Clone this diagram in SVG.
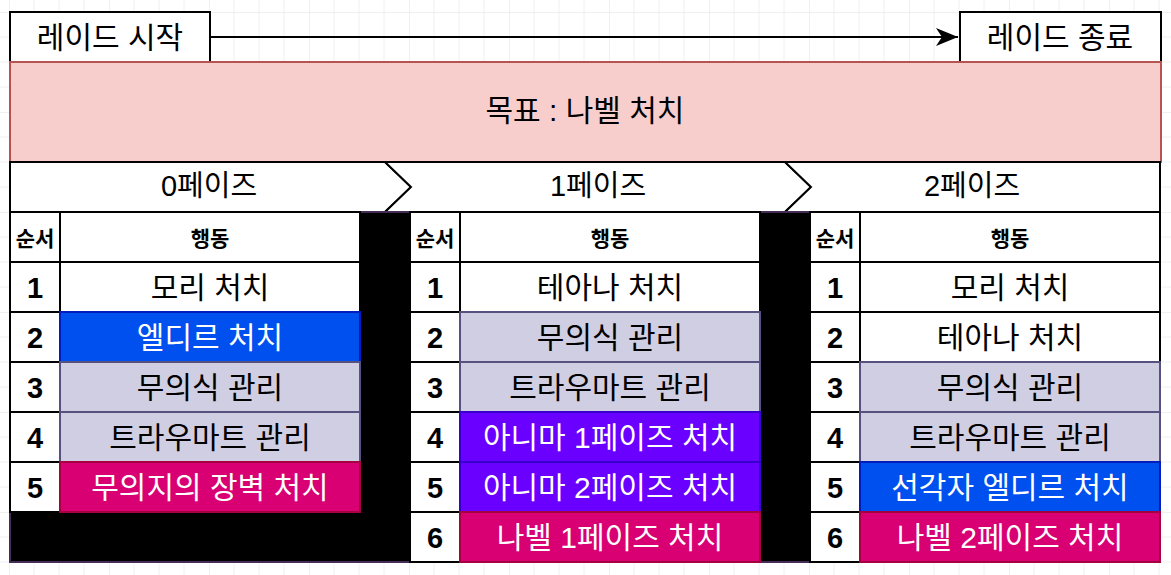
<svg xmlns="http://www.w3.org/2000/svg" width="1171" height="575" viewBox="0 0 1171 575">
<style>
text{font-family:"Liberation Sans","Noto Sans CJK KR",sans-serif;text-anchor:middle;dominant-baseline:central}
.t{font-size:30px;fill:#000}
.ph{font-size:29px}
.w{fill:#fff}
.goal{font-size:30px}
.hd{font-size:21px;font-weight:bold}
.num{font-size:29px;font-weight:bold}
.box{fill:#fff;stroke:#000;stroke-width:2}
.blue{fill:#0050ef;stroke:#001dbc;stroke-width:2}
.lav{fill:#d0cee2;stroke:#56517e;stroke-width:2}
.mag{fill:#d80073;stroke:#a50040;stroke-width:2}
.pur{fill:#6a00ff;stroke:#3700cc;stroke-width:2}
.blk{fill:#000;stroke:#432d57;stroke-width:2}
</style>
<defs>
<pattern id="grid" patternUnits="userSpaceOnUse" x="9" y="12" width="100" height="100">
<path d="M25 0V100M50 0V100M75 0V100M0 25H100M0 50H100M0 75H100" stroke="#f0f0f0" stroke-width="1" fill="none"/>
<path d="M0 0V100M0 0H100" stroke="#e2e2e2" stroke-width="1" fill="none"/>
</pattern>
<marker id="arr" markerUnits="userSpaceOnUse" markerWidth="24" markerHeight="20" refX="22" refY="9" orient="auto">
<path d="M0 0 L22 9 L0 18 L6 9 Z" fill="#000"/>
</marker>
</defs>
<rect width="1171" height="575" fill="#fff"/>
<rect width="1171" height="575" fill="url(#grid)"/>

<g id="connectors">
<path d="M210 37 H958" stroke="#000" stroke-width="2" fill="none" marker-end="url(#arr)"/>
</g>

<g id="raid-start"><rect class="box" x="10" y="12" width="200" height="50"/><text class="t" x="110" y="37">레이드 시작</text></g>
<g id="raid-end"><rect class="box" x="960" y="12" width="201" height="50"/><text class="t" x="1060" y="37">레이드 종료</text></g>
<g id="goal"><rect x="10" y="62" width="1151" height="100" fill="#f8cecc" stroke="#b85450" stroke-width="2"/><text class="t goal" x="585" y="110">목표 : 나벨 처치</text></g>

<g id="phase0"><polygon class="box" points="10,162 385,162 411,187 385,212 10,212"/><text class="t ph" x="209" y="186">0페이즈</text></g>
<g id="phase1"><polygon class="box" points="385,162 785,162 811,187 785,212 385,212 411,187"/><text class="t ph" x="598" y="186">1페이즈</text></g>
<g id="phase2"><polygon class="box" points="785,162 1160,162 1160,212 785,212 811,187"/><text class="t ph" x="972" y="186">2페이즈</text></g>

<g id="table0">
<rect class="blk" x="10" y="212" width="400" height="350"/>
<rect class="box" x="10" y="212" width="50" height="50"/><text class="hd" x="35" y="238">순서</text>
<rect class="box" x="60" y="212" width="300" height="50"/><text class="hd" x="210" y="238">행동</text>
<rect class="box" x="10" y="262" width="50" height="50"/><text class="num" x="35" y="288">1</text>
<rect class="box" x="60" y="262" width="300" height="50"/><text class="t" x="210" y="287">모리 처치</text>
<rect class="box" x="10" y="312" width="50" height="50"/><text class="num" x="35" y="338">2</text>
<rect class="blue" x="60" y="312" width="300" height="50"/><text class="t w" x="210" y="337">엘디르 처치</text>
<rect class="box" x="10" y="362" width="50" height="50"/><text class="num" x="35" y="388">3</text>
<rect class="lav" x="60" y="362" width="300" height="50"/><text class="t" x="210" y="387">무의식 관리</text>
<rect class="box" x="10" y="412" width="50" height="50"/><text class="num" x="35" y="438">4</text>
<rect class="lav" x="60" y="412" width="300" height="50"/><text class="t" x="210" y="437">트라우마트 관리</text>
<rect class="box" x="10" y="462" width="50" height="50"/><text class="num" x="35" y="488">5</text>
<rect class="mag" x="60" y="462" width="300" height="50"/><text class="t w" x="210" y="487">무의지의 장벽 처치</text>
</g>

<g id="table1">
<rect class="blk" x="760" y="212" width="50" height="350"/>
<rect class="box" x="410" y="212" width="50" height="50"/><text class="hd" x="435" y="238">순서</text>
<rect class="box" x="460" y="212" width="300" height="50"/><text class="hd" x="610" y="238">행동</text>
<rect class="box" x="410" y="262" width="50" height="50"/><text class="num" x="435" y="288">1</text>
<rect class="box" x="460" y="262" width="300" height="50"/><text class="t" x="610" y="287">테아나 처치</text>
<rect class="box" x="410" y="312" width="50" height="50"/><text class="num" x="435" y="338">2</text>
<rect class="lav" x="460" y="312" width="300" height="50"/><text class="t" x="610" y="337">무의식 관리</text>
<rect class="box" x="410" y="362" width="50" height="50"/><text class="num" x="435" y="388">3</text>
<rect class="lav" x="460" y="362" width="300" height="50"/><text class="t" x="610" y="387">트라우마트 관리</text>
<rect class="box" x="410" y="412" width="50" height="50"/><text class="num" x="435" y="438">4</text>
<rect class="pur" x="460" y="412" width="300" height="50"/><text class="t w" x="610" y="437">아니마 1페이즈 처치</text>
<rect class="box" x="410" y="462" width="50" height="50"/><text class="num" x="435" y="488">5</text>
<rect class="pur" x="460" y="462" width="300" height="50"/><text class="t w" x="610" y="487">아니마 2페이즈 처치</text>
<rect class="box" x="410" y="512" width="50" height="50"/><text class="num" x="435" y="538">6</text>
<rect class="mag" x="460" y="512" width="300" height="50"/><text class="t w" x="610" y="537">나벨 1페이즈 처치</text>
</g>

<g id="table2">
<rect class="box" x="810" y="212" width="50" height="50"/><text class="hd" x="835" y="238">순서</text>
<rect class="box" x="860" y="212" width="300" height="50"/><text class="hd" x="1010" y="238">행동</text>
<rect class="box" x="810" y="262" width="50" height="50"/><text class="num" x="835" y="288">1</text>
<rect class="box" x="860" y="262" width="300" height="50"/><text class="t" x="1010" y="287">모리 처치</text>
<rect class="box" x="810" y="312" width="50" height="50"/><text class="num" x="835" y="338">2</text>
<rect class="box" x="860" y="312" width="300" height="50"/><text class="t" x="1010" y="337">테아나 처치</text>
<rect class="box" x="810" y="362" width="50" height="50"/><text class="num" x="835" y="388">3</text>
<rect class="lav" x="860" y="362" width="300" height="50"/><text class="t" x="1010" y="387">무의식 관리</text>
<rect class="box" x="810" y="412" width="50" height="50"/><text class="num" x="835" y="438">4</text>
<rect class="lav" x="860" y="412" width="300" height="50"/><text class="t" x="1010" y="437">트라우마트 관리</text>
<rect class="box" x="810" y="462" width="50" height="50"/><text class="num" x="835" y="488">5</text>
<rect class="blue" x="860" y="462" width="300" height="50"/><text class="t w" x="1010" y="487">선각자 엘디르 처치</text>
<rect class="box" x="810" y="512" width="50" height="50"/><text class="num" x="835" y="538">6</text>
<rect class="mag" x="860" y="512" width="300" height="50"/><text class="t w" x="1010" y="537">나벨 2페이즈 처치</text>
</g>
</svg>
